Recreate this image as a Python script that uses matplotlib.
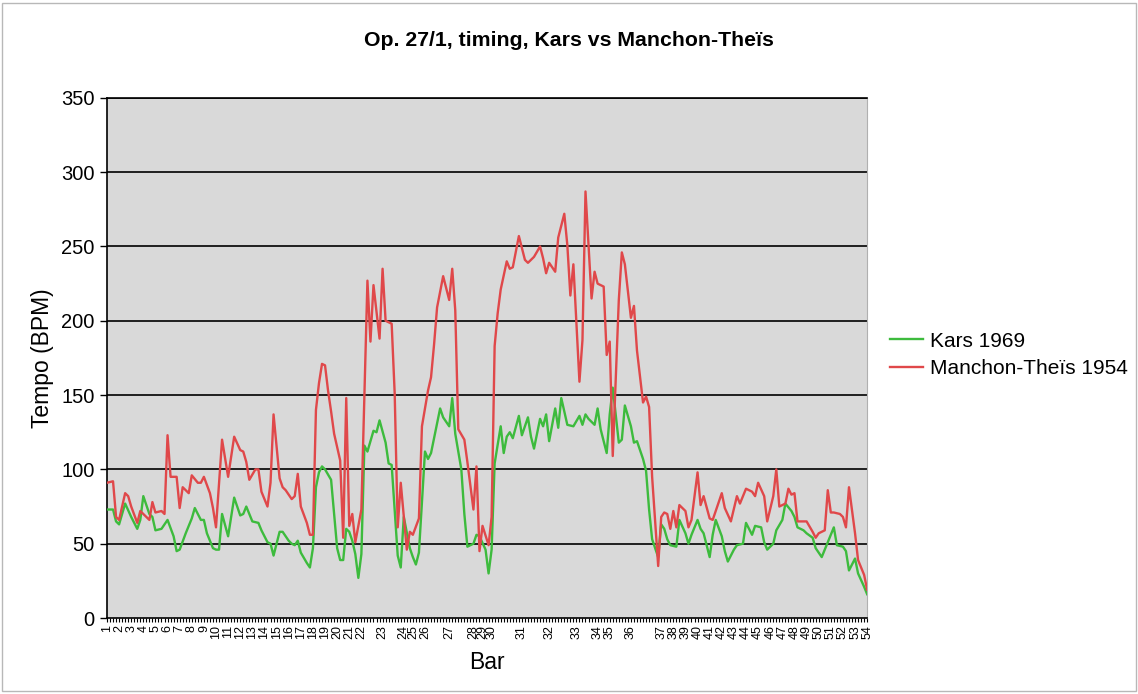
import matplotlib
matplotlib.use('Agg')
import matplotlib.pyplot as plt
from matplotlib.patches import Rectangle

# bar numbers and the beat index at which each bar starts
bar_numbers = list(range(1, 55))
bar_start_beats = [4 * (b - 1) for b in range(1, 20)] + \
    [76, 80, 84, 91, 98, 101, 105, 113, 121, 124, 127, 137, 146, 155, 162, 166, 173] + \
    [183 + 4 * k for k in range(18)]
n_beats = 252

# Kars 1969 (beat index, tempo)
kars_beats = [0, 2, 3, 4, 6, 8, 10, 11, 12, 14, 15, 16, 18, 19, 20, 22, 23, 24, 26, 28, 29, 31, 32, 33,
              35, 36, 37, 38, 40, 42, 44, 45, 46, 48, 50, 51, 53, 54, 55, 57, 58, 60, 61, 62, 63, 64,
              66, 67, 68, 69, 70, 71, 72, 74, 75, 76, 77, 78, 79, 80, 81, 82, 83, 84, 85, 86, 88, 89,
              90, 92, 93, 94, 96, 97, 98, 100, 101, 102, 103, 105, 106, 107, 110, 111, 113, 114, 115,
              117, 118, 119, 121, 122, 123, 125, 126, 127, 128, 130, 131, 132, 133, 134, 136, 137,
              139, 140, 141, 143, 144, 145, 146, 148, 149, 150, 152, 154, 156, 157, 158, 159, 161,
              162, 163, 165, 166, 167, 169, 170, 171, 173, 174, 175, 177, 178, 179, 180, 182, 183,
              184, 185, 186, 188, 189, 191, 192, 193, 195, 196, 197, 199, 200, 201, 203, 204, 205,
              207, 208, 210, 211, 213, 214, 216, 217, 218, 220, 221, 223, 224, 226, 227, 228, 230,
              231, 233, 234, 236, 237, 239, 240, 241, 243, 244, 245, 247, 248, 250, 251]
kars_bpm = [73, 73, 65, 63, 77, 68, 60, 66, 82, 70, 68, 59, 60, 63, 66, 55, 45, 46, 57, 67, 74, 66, 66, 57,
            47, 46, 46, 70, 55, 81, 69, 70, 75, 65, 64, 59, 51, 50, 42, 58, 58, 52, 50, 49, 52, 44,
            37, 34, 47, 88, 98, 102, 100, 93, 70, 47, 39, 39, 60, 58, 52, 43, 27, 43, 116, 112, 126, 125,
            133, 118, 104, 103, 42, 34, 68, 47, 41, 36, 44, 112, 107, 111, 141, 135, 129, 148, 124,
            100, 70, 48, 50, 56, 55, 46, 30, 46, 104, 129, 111, 122, 125, 121, 136, 123,
            135, 122, 114, 134, 129, 137, 119, 141, 128, 148, 130, 129, 136, 130, 137, 134, 130,
            141, 127, 111, 137, 155, 118, 120, 143, 129, 118, 119, 107, 99, 73, 53, 41, 63,
            60, 53, 49, 48, 66, 57, 50, 56, 66, 60, 57, 41, 56, 66, 55, 45, 38,
            46, 49, 50, 64, 56, 62, 61, 51, 46, 50, 59, 66, 77, 72, 68, 61, 59,
            57, 54, 47, 41, 46, 56, 61, 49, 48, 45, 32, 40, 30, 21, 16]

# Manchon-Theis 1954 (beat index, tempo)
mt_beats = [0, 2, 3, 4, 6, 7, 8, 10, 11, 12, 14, 15, 16, 18, 19, 20, 21, 23, 24, 25, 27, 28, 30, 31, 32,
            34, 35, 36, 38, 40, 42, 44, 45, 46, 47, 49, 50, 51, 53, 54, 55, 57, 58, 59, 61, 62, 63, 64,
            66, 67, 68, 69, 70, 71, 72, 73, 74, 75, 77, 78, 79, 80, 81, 82, 84, 86, 87, 88, 90, 91,
            92, 94, 95, 96, 97, 99, 100, 101, 103, 104, 106, 107, 108, 109, 111, 113, 114, 115,
            116, 118, 119, 121, 122, 123, 124, 126, 127, 128, 129, 130, 132, 133, 134, 136, 138,
            139, 140, 141, 143, 144, 145, 146, 148, 149, 151, 152, 153, 154, 156, 157, 158, 160,
            161, 162, 164, 165, 166, 167, 169, 170, 171, 173, 174, 175, 177, 178, 179, 180, 182,
            183, 184, 185, 186, 187, 188, 189, 191, 192, 193, 195, 196, 197, 199, 200, 201, 203,
            204, 206, 208, 209, 211, 213, 214, 215, 217, 218, 220, 221, 222, 224, 225, 226, 227,
            228, 229, 231, 233, 234, 235, 237, 238, 239, 240, 242, 243, 244, 245, 247, 248, 250, 251]
mt_bpm = [91, 92, 68, 66, 84, 82, 75, 64, 72, 70, 66, 78, 71, 72, 70, 123, 95, 95, 74, 88, 84, 96, 91, 91, 95,
          84, 74, 61, 120, 95, 122, 113, 112, 105, 93, 100, 100, 85, 75, 91, 137, 94, 88, 86, 80, 82, 97, 75,
          64, 56, 56, 140, 158, 171, 170, 153, 139, 124, 106, 54, 148, 62, 70, 51, 73, 227, 186, 224, 188, 235,
          200, 198, 151, 61, 91, 46, 58, 56, 67, 129, 153, 162, 184, 209, 230, 214, 235, 207,
          127, 120, 105, 73, 102, 45, 62, 49, 68, 183, 205, 221, 240, 235, 236, 257, 241,
          239, 241, 243, 250, 242, 232, 239, 233, 256, 272, 251, 217, 238, 159, 187, 287, 215,
          233, 225, 223, 177, 186, 109, 214, 246, 238, 202, 210, 180, 145, 149, 142, 95, 35,
          68, 71, 70, 60, 72, 61, 76, 72, 61, 66, 98, 76, 82, 67, 66, 72, 84,
          74, 65, 82, 77, 87, 85, 82, 91, 82, 65, 82, 100, 75, 77, 87, 83, 84,
          65, 65, 65, 58, 54, 57, 59, 86, 71, 71, 70, 68, 61, 88, 57, 39, 29, 19]

plt.rcParams['font.family'] = ['Liberation Sans', 'DejaVu Sans']

fig = plt.figure(figsize=(11.38, 6.94), dpi=100)
fig.patches.append(Rectangle((0.002, 0.004), 0.996, 0.992, transform=fig.transFigure,
                             fill=False, edgecolor='#b8b8b8', linewidth=1.0))
ax = fig.add_axes([0.094, 0.1095, 0.668, 0.7495])
ax.set_facecolor('#d9d9d9')

for y in range(50, 351, 50):
    ax.axhline(y, color='black', linewidth=1.2, zorder=1)

ax.plot(kars_beats, kars_bpm, color='#3dbb3d', linewidth=1.7, label='Kars 1969', zorder=3)
ax.plot(mt_beats, mt_bpm, color='#e0484a', linewidth=1.7, label='Manchon-Theïs 1954', zorder=3)

ax.set_xlim(0, n_beats - 1)
ax.set_ylim(0, 350)
ax.set_yticks(range(0, 351, 50))
ax.tick_params(axis='y', labelsize=14.5, length=5, width=1.0, direction='out', pad=4)

ax.set_xticks(bar_start_beats)
ax.set_xticklabels([str(b) for b in bar_numbers], rotation=90, fontsize=9)
ax.set_xticks(range(n_beats), minor=True)
ax.tick_params(axis='x', which='both', length=3, width=0.8, direction='out', pad=2)

for side in ['left', 'bottom', 'top']:
    ax.spines[side].set_color('black')
    ax.spines[side].set_linewidth(1.2)
ax.spines['right'].set_color('#b0b0b0')

ax.set_ylabel('Tempo (BPM)', fontsize=16.5, labelpad=5)
ax.set_xlabel('Bar', fontsize=16.5, labelpad=9)
fig.text(0.5, 0.942, 'Op. 27/1, timing, Kars vs Manchon-Theïs', ha='center', va='center',
         fontsize=15.3, fontweight='bold')

ax.legend(loc='center left', bbox_to_anchor=(1.005, 0.506), frameon=False, fontsize=15,
          handlelength=1.6, handletextpad=0.35, labelspacing=0.4)

fig.savefig('out.png', dpi=100)
